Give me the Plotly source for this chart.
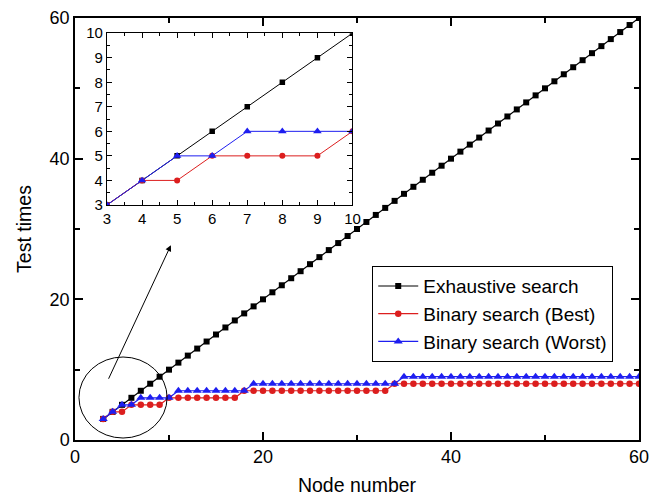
import plotly.graph_objects as go

node = [3, 4, 5, 6, 7, 8, 9, 10, 11, 12, 13, 14, 15, 16, 17, 18, 19, 20, 21, 22,
        23, 24, 25, 26, 27, 28, 29, 30, 31, 32, 33, 34, 35, 36, 37, 38, 39, 40, 41, 42,
        43, 44, 45, 46, 47, 48, 49, 50, 51, 52, 53, 54, 55, 56, 57, 58, 59, 60]
exhaustive = [3, 4, 5, 6, 7, 8, 9, 10, 11, 12, 13, 14, 15, 16, 17, 18, 19, 20, 21, 22,
              23, 24, 25, 26, 27, 28, 29, 30, 31, 32, 33, 34, 35, 36, 37, 38, 39, 40, 41, 42,
              43, 44, 45, 46, 47, 48, 49, 50, 51, 52, 53, 54, 55, 56, 57, 58, 59, 60]
binary_best = [3, 4, 4, 5, 5, 5, 5, 6, 6, 6, 6, 6, 6, 6, 6, 7, 7, 7, 7, 7,
               7, 7, 7, 7, 7, 7, 7, 7, 7, 7, 7, 8, 8, 8, 8, 8, 8, 8, 8, 8,
               8, 8, 8, 8, 8, 8, 8, 8, 8, 8, 8, 8, 8, 8, 8, 8, 8, 8]
binary_worst = [3, 4, 5, 5, 6, 6, 6, 6, 7, 7, 7, 7, 7, 7, 7, 7, 8, 8, 8, 8,
                8, 8, 8, 8, 8, 8, 8, 8, 8, 8, 8, 8, 9, 9, 9, 9, 9, 9, 9, 9,
                9, 9, 9, 9, 9, 9, 9, 9, 9, 9, 9, 9, 9, 9, 9, 9, 9, 9]
names = ["Exhaustive search", "Binary search (Best)", "Binary search (Worst)"]
inset_n = 8  # nodes 3..10 shown in the inset

BLACK = "#000000"
RED = "#dc1e1e"
BLUE = "#1e1ef0"
FONT = "Liberation Sans, Arial, sans-serif"

series = [
    (exhaustive, BLACK, "square", 6),
    (binary_best, RED, "circle", 6.5),
    (binary_worst, BLUE, "triangle-up", 8),
]

fig = go.Figure()
for (vals, col, sym, sz), nm in zip(series, names):
    fig.add_trace(go.Scatter(
        x=node, y=vals, name=nm, mode="lines+markers",
        line=dict(color=col, width=1.2),
        marker=dict(symbol=sym, size=sz, color=col),
        xaxis="x", yaxis="y"))
for (vals, col, sym, sz), nm in zip(series, names):
    fig.add_trace(go.Scatter(
        x=node[:inset_n], y=vals[:inset_n], name=nm, mode="lines+markers",
        line=dict(color=col, width=1),
        marker=dict(symbol=sym, size=sz - 0.5, color=col),
        showlegend=False, xaxis="x2", yaxis="y2"))

axis_common = dict(showline=True, linecolor="black", linewidth=1.5, mirror="ticks",
                   ticks="inside", tickcolor="black", tickwidth=1.5,
                   showgrid=False, zeroline=False, automargin=False,
                   ticklabeloverflow="allow")

fig.update_layout(
    width=651, height=496,
    margin=dict(l=75, r=12, t=18, b=56, autoexpand=False),
    paper_bgcolor="white", plot_bgcolor="white",
    font=dict(family=FONT, color="black", size=18),
    xaxis=dict(range=[0, 60], tickvals=[0, 20, 40, 60], ticklen=8,
               minor=dict(tickvals=[10, 30, 50], ticklen=5, ticks="inside", tickcolor="black", tickwidth=1.5),
               title=dict(text="Node number", font=dict(size=19.5), standoff=12),
               tickfont=dict(size=18), **axis_common),
    yaxis=dict(range=[0, 60], tickvals=[0, 20, 40, 60], ticklen=8,
               minor=dict(tickvals=[10, 30, 50], ticklen=5, ticks="inside", tickcolor="black", tickwidth=1.5),
               title=dict(text="Test times", font=dict(size=19.5), standoff=13),
               tickfont=dict(size=18), **axis_common),
    xaxis2=dict(domain=[0.0567, 0.492], anchor="y2", range=[3, 10], dtick=1, ticklen=5,
                minor=dict(dtick=0.5, ticklen=3, ticks="inside", tickcolor="black", tickwidth=1),
                tickfont=dict(size=15), showline=True, linecolor="black", linewidth=1.2,
                mirror="ticks", ticks="inside", tickcolor="black", tickwidth=1,
                showgrid=False, zeroline=False),
    yaxis2=dict(domain=[0.557, 0.964], anchor="x2", range=[3, 10], dtick=1, ticklen=5,
                minor=dict(dtick=0.5, ticklen=3, ticks="inside", tickcolor="black", tickwidth=1),
                tickfont=dict(size=15), showline=True, linecolor="black", linewidth=1.2,
                mirror="ticks", ticks="inside", tickcolor="black", tickwidth=1,
                showgrid=False, zeroline=False),
    legend=dict(x=0.527, y=0.412, xanchor="left", yanchor="top",
                bordercolor="black", borderwidth=1, bgcolor="white",
                font=dict(size=19), tracegroupgap=0, itemwidth=40),
    showlegend=True,
)

fig.add_shape(type="circle", xref="x", yref="y", x0=0.42, x1=9.8, y0=0.28, y1=11.8,
              line=dict(color="black", width=1))
fig.add_annotation(x=10.2, y=27.7, ax=3.5, ay=8.5, xref="x", yref="y", axref="x", ayref="y",
                   showarrow=True, arrowhead=2, arrowsize=1.2, arrowwidth=1, arrowcolor="black", text="")

fig.write_html("out.html")
